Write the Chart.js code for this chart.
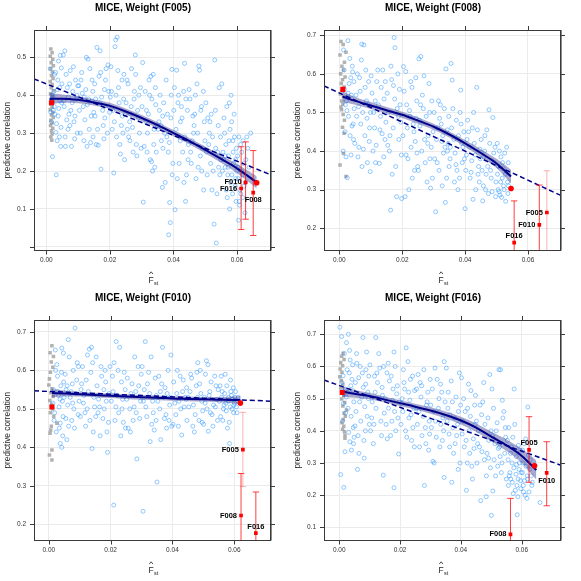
<!DOCTYPE html>
<html>
<head>
<meta charset="utf-8">
<title>MICE, Weight</title>
<script src="https://cdn.jsdelivr.net/npm/chart.js@4.4.1/dist/chart.umd.min.js"></script>
<style>
  body { margin: 0; background: #fff; }
  .panel { position: absolute; width: 290px; height: 290px; }
</style>
</head>
<body>
<div class="panel" style="left:0;top:0"><canvas id="c005" width="290" height="290"></canvas></div>
<div class="panel" style="left:290px;top:0"><canvas id="c008" width="290" height="290"></canvas></div>
<div class="panel" style="left:0;top:290px"><canvas id="c010" width="290" height="290"></canvas></div>
<div class="panel" style="left:290px;top:290px"><canvas id="c016" width="290" height="290"></canvas></div>
<script>
const FONT = "'Liberation Sans', Arial, Helvetica, sans-serif";
Chart.defaults.font.family = FONT;

const xTicks = [0, 0.02, 0.04, 0.06];

// ---------- F005 ----------
const f005YTicks = [0, 0.1, 0.2, 0.3, 0.4, 0.5];
const f005Cloud = [
  [0.0012,0.47],[0.0041,0.29],[0.0027,0.35],[0.0036,0.44],[0.0019,0.238],[0.0048,0.38],[0.0023,0.41],[0.0031,0.19],[0.0044,0.505],[0.0016,0.33],
  [0.0039,0.365],[0.0029,0.46],[0.0046,0.315],[0.0021,0.395],[0.0034,0.28],[0.0042,0.42],[0.0025,0.37],[0.0038,0.49],[0.0014,0.355],[0.0049,0.43],
  [0.0032,0.325],[0.0045,0.265],[0.0026,0.455],[0.0037,0.345],[0.0018,0.40],[0.0043,0.385],[0.003,0.302],[0.0047,0.472],[0.0022,0.36],[0.0035,0.415],
  [0.0053,0.506],[0.0087,0.33],[0.0066,0.42],[0.0079,0.265],[0.0058,0.517],[0.0094,0.39],[0.0071,0.35],[0.0062,0.455],[0.0083,0.41],[0.0097,0.30],
  [0.0056,0.37],[0.0075,0.465],[0.0089,0.285],[0.0068,0.31],[0.0092,0.44],[0.006,0.265],[0.0081,0.38],[0.0073,0.43],[0.0064,0.335],[0.0096,0.40],
  [0.0085,0.475],[0.0055,0.385],[0.0077,0.36],[0.0069,0.395],[0.009,0.345],[0.0099,0.425],[0.0059,0.29],[0.0074,0.32],
  [0.0104,0.36],[0.0137,0.47],[0.0118,0.28],[0.0126,0.50],[0.0142,0.385],[0.0109,0.44],[0.0131,0.495],[0.0121,0.335],[0.0147,0.29],[0.0113,0.405],
  [0.0135,0.31],[0.0102,0.425],[0.0128,0.265],[0.0144,0.44],[0.0116,0.37],[0.0139,0.275],[0.0107,0.30],[0.0124,0.415],[0.0149,0.355],[0.0133,0.39],
  [0.0111,0.46],[0.0141,0.345],[0.0119,0.395],[0.0129,0.375],[0.0146,0.41],
  [0.0159,0.526],[0.0184,0.34],[0.0166,0.45],[0.0192,0.30],[0.0172,0.205],[0.0155,0.39],[0.0188,0.47],[0.0177,0.36],[0.0163,0.268],[0.0196,0.41],
  [0.0169,0.517],[0.0181,0.285],[0.0152,0.43],[0.0174,0.395],[0.0199,0.355],[0.0161,0.31],[0.0186,0.44],[0.0179,0.32],[0.0157,0.27],[0.0194,0.48],
  [0.0168,0.38],[0.0183,0.415],[0.0171,0.46],[0.0153,0.345],[0.0197,0.37],
  [0.0223,0.553],[0.0236,0.32],[0.0205,0.41],[0.0244,0.455],[0.0212,0.195],[0.0229,0.38],[0.0218,0.546],[0.0248,0.35],[0.0203,0.475],[0.0233,0.245],
  [0.0216,0.528],[0.0241,0.30],[0.0209,0.36],[0.0227,0.42],[0.0246,0.23],[0.0214,0.33],[0.0238,0.44],[0.0221,0.29],[0.0201,0.395],[0.0231,0.27],
  [0.0243,0.39],[0.0225,0.465],[0.0207,0.31],[0.0239,0.345],[0.0219,0.40],
  [0.028,0.506],[0.0262,0.33],[0.0291,0.40],[0.0254,0.44],[0.0273,0.25],[0.0287,0.36],[0.0259,0.29],[0.0296,0.42],[0.0268,0.47],[0.0283,0.27],
  [0.0251,0.38],[0.0277,0.41],[0.0293,0.30],[0.0265,0.35],[0.0285,0.24],[0.0257,0.43],[0.0271,0.315],[0.0298,0.26],[0.0276,0.39],[0.0263,0.28],
  [0.0289,0.34],[0.0255,0.31],[0.0281,0.455],[0.0267,0.37],
  [0.0303,0.486],[0.0305,0.118],[0.0336,0.455],[0.0318,0.30],[0.0344,0.375],[0.0311,0.41],[0.0327,0.23],[0.0349,0.32],[0.0315,0.36],[0.0332,0.39],
  [0.0308,0.265],[0.0341,0.21],[0.0323,0.44],[0.0338,0.27],[0.0313,0.33],[0.0329,0.45],[0.0346,0.25],[0.0321,0.35],[0.0334,0.20],[0.0301,0.37],
  [0.0325,0.40],[0.0343,0.42],[0.0317,0.25],[0.0339,0.31],[0.0331,0.225],
  [0.0385,0.032],[0.039,0.064],[0.0388,0.117],[0.0365,0.157],[0.0395,0.468],[0.0372,0.30],[0.0358,0.40],[0.0381,0.35],[0.0367,0.26],[0.0392,0.34],
  [0.0354,0.33],[0.0377,0.44],[0.0362,0.28],[0.0398,0.22],[0.0369,0.38],[0.0384,0.25],[0.0356,0.36],[0.0379,0.29],[0.0393,0.40],[0.0361,0.32],
  [0.0374,0.17],[0.0387,0.275],[0.0396,0.19],[0.0366,0.345],[0.0352,0.31],
  [0.0405,0.098],[0.041,0.466],[0.0435,0.484],[0.0422,0.33],[0.0447,0.27],[0.0414,0.38],[0.0438,0.12],[0.0403,0.42],[0.0429,0.25],[0.0444,0.36],
  [0.0418,0.22],[0.0432,0.41],[0.0408,0.31],[0.0441,0.19],[0.0425,0.37],[0.0412,0.18],[0.0436,0.29],[0.0449,0.415],[0.0421,0.28],[0.0433,0.17],
  [0.0416,0.40],[0.0446,0.23],[0.0427,0.34],[0.0401,0.36],[0.0439,0.39],
  [0.048,0.477],[0.0482,0.466],[0.0495,0.15],[0.0463,0.30],[0.0488,0.37],[0.0456,0.22],[0.0474,0.43],[0.0491,0.26],[0.0467,0.35],[0.0452,0.39],
  [0.0478,0.21],[0.0497,0.33],[0.0459,0.28],[0.0485,0.24],[0.0471,0.18],[0.0494,0.41],[0.0461,0.345],[0.0476,0.30],[0.0489,0.20],[0.0454,0.25],
  [0.0469,0.40],[0.0499,0.28],[0.0465,0.32],[0.0486,0.36],
  [0.053,0.493],[0.0535,0.010],[0.0528,0.06],[0.0513,0.30],[0.0546,0.19],[0.0502,0.38],[0.0539,0.25],[0.0521,0.15],[0.0508,0.34],[0.0544,0.42],
  [0.0517,0.22],[0.0532,0.36],[0.0504,0.25],[0.0548,0.29],[0.0525,0.20],[0.0511,0.27],[0.0537,0.14],[0.0519,0.35],[0.0541,0.32],[0.0506,0.19],
  [0.0533,0.26],[0.0515,0.33],[0.0549,0.23],[0.0523,0.29],[0.0542,0.21],
  [0.0552,0.43],[0.0577,0.10],[0.0561,0.30],[0.0589,0.22],[0.0568,0.37],[0.0594,0.16],[0.0556,0.25],[0.0583,0.33],[0.0571,0.19],[0.0598,0.26],
  [0.0563,0.21],[0.0586,0.14],[0.0575,0.28],[0.0559,0.34],[0.0592,0.29],[0.0566,0.15],[0.0581,0.40],[0.0597,0.12],[0.0573,0.24],[0.0554,0.20],
  [0.0588,0.25],[0.0579,0.17],[0.0595,0.23],[0.0565,0.27],[0.0584,0.19],[0.0558,0.23],[0.0591,0.35],[0.0569,0.13],[0.0599,0.20],[0.0576,0.38],
  [0.0562,0.24],[0.0587,0.28],[0.0572,0.21],[0.0596,0.18],[0.0578,0.31],
  [0.0605,0.07],[0.0625,0.09],[0.0608,0.11],[0.0631,0.29],[0.0614,0.20],[0.0602,0.24],[0.0622,0.16],[0.0638,0.21],[0.0611,0.27],[0.0618,0.13],
  [0.0604,0.18],[0.0628,0.23],[0.0615,0.25],[0.0643,0.30],[0.0609,0.15],[0.0621,0.22],[0.0606,0.29],[0.0634,0.26],[0.0617,0.19],[0.0612,0.14],
  [0.0603,0.21],[0.0627,0.17],[0.0619,0.28],[0.0607,0.12]
];
const f005Near = [
  [0.0014,0.522],[0.0018,0.512],[0.0012,0.503],[0.0020,0.495],[0.0015,0.486],[0.0022,0.478],[0.0013,0.470],[0.0019,0.461],[0.0016,0.452],[0.0021,0.444],
  [0.0012,0.436],[0.0018,0.428],[0.0015,0.420],[0.0023,0.412],[0.0013,0.404],[0.0019,0.397],[0.0016,0.390],[0.0021,0.383],[0.0014,0.376],[0.0018,0.369],
  [0.0012,0.362],[0.0020,0.355],[0.0016,0.348],[0.0022,0.341],[0.0014,0.334],[0.0018,0.327],[0.0013,0.320],[0.0020,0.313],[0.0016,0.306],[0.0018,0.298],
  [0.0014,0.290],[0.0017,0.281]
];
const f005FitX    = [0.001,0.005,0.01,0.015,0.02,0.025,0.03,0.035,0.04,0.045,0.05,0.055,0.06,0.0662];
const f005Fit     = [0.390,0.391,0.388,0.381,0.372,0.357,0.340,0.321,0.300,0.279,0.256,0.232,0.207,0.170];
const f005FitLow  = [0.374,0.380,0.379,0.373,0.364,0.349,0.332,0.313,0.292,0.271,0.247,0.222,0.195,0.154];
const f005FitHigh = [0.406,0.402,0.397,0.389,0.380,0.365,0.348,0.329,0.308,0.287,0.265,0.242,0.219,0.186];
const f005TrendX = [-0.0039, 0.0707];
const f005TrendY = [0.443, 0.190];
const f005Self = [0.0016, 0.380];
const f005End = [0.0662, 0.169];
const f005Names = ['F010', 'F016', 'F008'];
const f005OtherX = [0.0627, 0.0613, 0.0651];
const f005OtherY = [0.170, 0.154, 0.143];
const f005OtherLo = [0.073, 0.046, 0.030];
const f005OtherHi = [0.277, 0.264, 0.254];

// ---------- F008 ----------
const f008YTicks = [0.2, 0.3, 0.4, 0.5, 0.6, 0.7];
const f008Cloud = [
  [0.0027,0.686],[0.0013,0.662],[0.0041,0.62],[0.0022,0.53],[0.0036,0.59],[0.0018,0.45],[0.0047,0.51],[0.0031,0.575],[0.0012,0.40],[0.0044,0.47],
  [0.0025,0.331],[0.0038,0.545],[0.0016,0.56],[0.0049,0.42],[0.0029,0.49],[0.0042,0.605],[0.0021,0.385],[0.0034,0.44],[0.0046,0.58],[0.0019,0.52],
  [0.0033,0.64],[0.0045,0.43],[0.0024,0.505],[0.004,0.465],[0.0015,0.61],[0.0037,0.39],[0.0028,0.55],
  [0.0071,0.677],[0.0078,0.675],[0.007,0.636],[0.0098,0.347],[0.0055,0.49],[0.0086,0.53],[0.0062,0.41],[0.0093,0.58],[0.0066,0.555],[0.0081,0.44],
  [0.0057,0.60],[0.0089,0.37],[0.0074,0.50],[0.0096,0.46],[0.0059,0.385],[0.0084,0.61],[0.0068,0.47],[0.0092,0.52],[0.0053,0.545],[0.0076,0.405],
  [0.0088,0.485],[0.0064,0.59],[0.0095,0.425],[0.0072,0.36],[0.0082,0.565],[0.0061,0.515],[0.0099,0.50],
  [0.0104,0.55],[0.0127,0.368],[0.0138,0.61],[0.0112,0.46],[0.0145,0.43],[0.0119,0.58],[0.0131,0.49],[0.0107,0.40],[0.0142,0.535],[0.0115,0.37],
  [0.0136,0.445],[0.0101,0.595],[0.0124,0.52],[0.0148,0.475],[0.0117,0.415],[0.0133,0.565],[0.0109,0.50],[0.0141,0.385],[0.0122,0.61],[0.0129,0.455],
  [0.0146,0.58],[0.0114,0.53],
  [0.0174,0.694],[0.0177,0.668],[0.0163,0.247],[0.0182,0.282],[0.0198,0.277],[0.0156,0.50],[0.0189,0.43],[0.0166,0.585],[0.0193,0.52],[0.0159,0.40],
  [0.0171,0.46],[0.0186,0.60],[0.0152,0.55],[0.0179,0.36],[0.0195,0.475],[0.0161,0.44],[0.0184,0.51],[0.0168,0.34],[0.0191,0.56],[0.0154,0.415],
  [0.0176,0.535],[0.0197,0.39],[0.0164,0.62],[0.0188,0.49],[0.0172,0.57],
  [0.0204,0.619],[0.0211,0.606],[0.0209,0.282],[0.0237,0.45],[0.0218,0.38],[0.0246,0.53],[0.0225,0.49],[0.0202,0.44],[0.0232,0.33],[0.0243,0.59],
  [0.0214,0.52],[0.0228,0.41],[0.0249,0.36],[0.0206,0.555],[0.0235,0.47],[0.0221,0.30],[0.0241,0.425],[0.0216,0.46],[0.0231,0.565],[0.0247,0.395],
  [0.0223,0.505],[0.0239,0.35],[0.0212,0.39],[0.0227,0.58],[0.0244,0.485],
  [0.0253,0.639],[0.0259,0.645],[0.029,0.304],[0.0267,0.51],[0.0281,0.42],[0.0256,0.465],[0.0294,0.53],[0.0273,0.37],[0.0285,0.575],[0.0262,0.40],
  [0.0298,0.45],[0.0276,0.49],[0.0251,0.35],[0.0288,0.38],[0.0269,0.595],[0.0283,0.44],[0.0258,0.52],[0.0296,0.33],[0.0271,0.43],[0.0264,0.545],
  [0.0292,0.41],[0.0279,0.32],[0.0255,0.48],[0.0287,0.50],
  [0.0306,0.243],[0.0337,0.267],[0.0339,0.613],[0.0313,0.46],[0.0344,0.40],[0.0321,0.52],[0.0303,0.38],[0.0329,0.44],[0.0348,0.49],[0.0317,0.35],
  [0.0334,0.51],[0.0309,0.43],[0.0341,0.33],[0.0324,0.47],[0.0301,0.50],[0.0331,0.395],[0.0346,0.42],[0.0315,0.53],[0.0327,0.31],[0.0343,0.455],
  [0.0311,0.37],[0.0336,0.41],[0.0319,0.485],[0.0349,0.36],[0.0326,0.425],
  [0.0355,0.627],[0.0359,0.584],[0.0386,0.558],[0.04,0.251],[0.0364,0.43],[0.0391,0.37],[0.0372,0.48],[0.0353,0.41],[0.0382,0.33],[0.0368,0.395],
  [0.0396,0.45],[0.0377,0.30],[0.0361,0.51],[0.0389,0.42],[0.0374,0.35],[0.0357,0.46],[0.0384,0.50],[0.0398,0.38],[0.0366,0.32],[0.0379,0.44],
  [0.0393,0.41],[0.0371,0.365],[0.0352,0.38],[0.0387,0.47],
  [0.0437,0.565],[0.0425,0.275],[0.0411,0.45],[0.0443,0.36],[0.0404,0.39],[0.0429,0.42],[0.0416,0.33],[0.0447,0.405],[0.0408,0.48],[0.0434,0.30],
  [0.0421,0.375],[0.0402,0.35],[0.0439,0.455],[0.0414,0.41],[0.0445,0.32],[0.0427,0.50],[0.0419,0.345],[0.0432,0.39],[0.0406,0.43],[0.0441,0.34],
  [0.0423,0.46],[0.0448,0.38],
  [0.0456,0.271],[0.0476,0.507],[0.0488,0.487],[0.0497,0.282],[0.0462,0.40],[0.0483,0.33],[0.0469,0.455],[0.0492,0.37],[0.0454,0.35],[0.0478,0.42],
  [0.0465,0.30],[0.0495,0.41],[0.0472,0.36],[0.0451,0.43],[0.0486,0.295],[0.0459,0.385],[0.0481,0.35],[0.0498,0.32],[0.0467,0.34],[0.0474,0.29],
  [0.0491,0.395],[0.0458,0.31],[0.0485,0.375],[0.0463,0.44],
  [0.0511,0.286],[0.0532,0.41],[0.0506,0.36],[0.0524,0.30],[0.0537,0.37],[0.0502,0.42],[0.0518,0.33],[0.0529,0.27],[0.0514,0.385],[0.0535,0.32],
  [0.0508,0.295],[0.0521,0.355],[0.0538,0.31],[0.0503,0.34],[0.0526,0.395],[0.0516,0.28],[0.0533,0.345],[0.0509,0.40],[0.0522,0.31],[0.0536,0.29],
  [0.0505,0.30],[0.0519,0.37],[0.0528,0.34],[0.0513,0.32]
];
const f008Near = [
  [0.0005,0.684],[0.0012,0.676],[0.0002,0.649],[0.0021,0.656],[0.0016,0.630],[0.0008,0.620],[0.0013,0.610],[0.0004,0.600],[0.0018,0.592],[0.0010,0.585],
  [0.0006,0.575],[0.0015,0.566],[0.0009,0.556],[0.0003,0.548],[0.0013,0.540],[0.0007,0.530],[0.0011,0.522],[0.0005,0.514],[0.0007,0.507],[0.0012,0.495],
  [0.0016,0.480],[0.0010,0.462],[0.0015,0.446],[0.0013,0.394],[0.0002,0.364],[0.0021,0.334]
];
const f008FitX    = [0.001,0.005,0.01,0.015,0.02,0.025,0.03,0.035,0.04,0.045,0.05,0.0546];
const f008Fit     = [0.541,0.530,0.518,0.506,0.494,0.479,0.463,0.443,0.420,0.395,0.368,0.334];
const f008FitLow  = [0.527,0.520,0.509,0.498,0.486,0.471,0.455,0.435,0.411,0.385,0.356,0.316];
const f008FitHigh = [0.555,0.540,0.527,0.514,0.502,0.487,0.471,0.451,0.429,0.405,0.380,0.352];
const f008TrendX = [-0.0049, 0.0705];
const f008TrendY = [0.569, 0.285];
const f008Self = [0.0011, 0.560];
const f008End = [0.0546, 0.303];
const f008Names = ['F016', 'F010', 'F005'];
const f008OtherX = [0.0556, 0.0636, 0.0660];
const f008OtherY = [0.163, 0.209, 0.241];
const f008OtherLo = [0.050, 0.100, 0.130];
const f008OtherHi = [0.271, 0.312, 0.349];

// ---------- F010 ----------
const f010YTicks = [0.2, 0.3, 0.4, 0.5, 0.6, 0.7];
const f010Cloud = [
  [0.0021,0.653],[0.0042,0.658],[0.0047,0.645],[0.0037,0.463],[0.0034,0.45],[0.0037,0.41],[0.0042,0.40],[0.0015,0.55],[0.0028,0.585],[0.0044,0.52],
  [0.0019,0.49],[0.0031,0.535],[0.0048,0.57],[0.0024,0.44],[0.0039,0.56],[0.0013,0.515],[0.0046,0.48],[0.0026,0.615],[0.0033,0.505],[0.0041,0.595],
  [0.0017,0.47],[0.0029,0.545],[0.0049,0.53],[0.0022,0.60],[0.0036,0.525],[0.0045,0.43],
  [0.0085,0.71],[0.0063,0.68],[0.0092,0.62],[0.0056,0.55],[0.0074,0.47],[0.0088,0.54],[0.0061,0.51],[0.0079,0.60],[0.0095,0.485],[0.0053,0.59],
  [0.0069,0.53],[0.0083,0.45],[0.0058,0.42],[0.0076,0.565],[0.0098,0.52],[0.0066,0.635],[0.0081,0.50],[0.0055,0.475],[0.0072,0.545],[0.009,0.575],
  [0.0064,0.455],[0.0077,0.515],[0.0096,0.61],[0.0059,0.56],
  [0.0125,0.64],[0.0131,0.655],[0.0138,0.66],[0.014,0.397],[0.0104,0.55],[0.0117,0.49],[0.0146,0.53],[0.0109,0.61],[0.0133,0.47],[0.0121,0.575],
  [0.0144,0.44],[0.0112,0.515],[0.0128,0.545],[0.0102,0.48],[0.0136,0.595],[0.0119,0.455],[0.0148,0.505],[0.0106,0.565],[0.0124,0.50],[0.0142,0.62],
  [0.0114,0.535],
  [0.019,0.387],[0.0198,0.61],[0.0153,0.635],[0.0166,0.43],[0.0178,0.55],[0.0159,0.49],[0.0186,0.52],[0.0171,0.585],[0.0193,0.465],[0.0156,0.56],
  [0.0182,0.60],[0.0164,0.505],[0.0175,0.475],[0.0195,0.54],[0.0161,0.525],[0.0188,0.44],[0.0169,0.61],[0.0179,0.50],[0.0152,0.48],[0.0184,0.57],
  [0.021,0.25],[0.0218,0.675],[0.0229,0.66],[0.0206,0.585],[0.0237,0.50],[0.0214,0.47],[0.0244,0.595],[0.0222,0.535],[0.0202,0.52],[0.0233,0.43],
  [0.0247,0.55],[0.0211,0.62],[0.0226,0.49],[0.0241,0.465],[0.0208,0.545],[0.0235,0.57],[0.0217,0.505],[0.0248,0.45],[0.0224,0.60],[0.0239,0.525],
  [0.0285,0.37],[0.0278,0.635],[0.0262,0.50],[0.0291,0.56],[0.0254,0.58],[0.0273,0.47],[0.0297,0.52],[0.0266,0.54],[0.0283,0.49],[0.0257,0.45],
  [0.0289,0.61],[0.0269,0.565],[0.0294,0.475],[0.0252,0.525],[0.0276,0.505],[0.0299,0.59],[0.0264,0.44],[0.0281,0.545],
  [0.0305,0.234],[0.0312,0.675],[0.035,0.31],[0.0328,0.415],[0.0302,0.61],[0.0336,0.52],[0.0317,0.48],[0.0344,0.58],[0.0309,0.55],[0.0323,0.595],
  [0.0347,0.47],[0.0314,0.505],[0.0331,0.635],[0.0341,0.445],[0.0306,0.52],[0.0326,0.54],[0.0338,0.49],[0.0319,0.565],[0.0348,0.535],[0.0333,0.46],
  [0.0368,0.66],[0.0395,0.64],[0.0362,0.42],[0.0383,0.54],[0.0356,0.585],[0.0374,0.475],[0.0391,0.51],[0.0359,0.50],[0.0386,0.60],[0.0371,0.53],
  [0.0398,0.455],[0.0365,0.565],[0.0379,0.485],[0.0353,0.52],[0.0389,0.47],[0.0376,0.555],[0.0394,0.53],[0.0361,0.545],[0.0381,0.45],
  [0.043,0.432],[0.0416,0.60],[0.0441,0.53],[0.0404,0.57],[0.0427,0.50],[0.0446,0.555],[0.0411,0.485],[0.0435,0.575],[0.0421,0.52],[0.0402,0.46],
  [0.0438,0.505],[0.0414,0.54],[0.0447,0.47],[0.0425,0.585],[0.0408,0.515],[0.0433,0.545],[0.0419,0.455],[0.0444,0.525],
  [0.0482,0.62],[0.049,0.60],[0.0457,0.545],[0.0471,0.44],[0.0495,0.52],[0.0462,0.58],[0.0486,0.47],[0.0453,0.505],[0.0477,0.56],[0.0498,0.495],
  [0.0466,0.455],[0.0481,0.53],[0.0459,0.59],[0.0492,0.54],[0.0474,0.485],[0.0451,0.53],[0.0488,0.565],[0.0468,0.51],[0.0496,0.465],[0.0479,0.595],
  [0.051,0.625],[0.0515,0.615],[0.0516,0.442],[0.0503,0.53],[0.0528,0.485],[0.0541,0.56],[0.0507,0.59],[0.0533,0.51],[0.0546,0.47],[0.0521,0.545],
  [0.0501,0.46],[0.0537,0.585],[0.0512,0.50],[0.0525,0.57],[0.0544,0.525],[0.0506,0.515],[0.0531,0.455],[0.0519,0.535],[0.0548,0.55],[0.0523,0.49],
  [0.0539,0.505],
  [0.0585,0.41],[0.0578,0.45],[0.0552,0.52],[0.0571,0.59],[0.0593,0.50],[0.0561,0.545],[0.0582,0.53],[0.0556,0.48],[0.0597,0.555],[0.0567,0.51],
  [0.0588,0.575],[0.0554,0.56],[0.0574,0.495],[0.0591,0.535],[0.0563,0.47],[0.0581,0.52],[0.0598,0.49],[0.0569,0.54],[0.0587,0.505],[0.0559,0.53],
  [0.0576,0.56],[0.0595,0.525],[0.0565,0.50],[0.0589,0.545],[0.0573,0.515],[0.0558,0.585],[0.0599,0.51],[0.0584,0.465],
  [0.0602,0.53],[0.0607,0.505],[0.0611,0.52],[0.0604,0.545],[0.0609,0.49],[0.0613,0.53],[0.0601,0.515]
];
const f010Near = [
  [0.0010,0.664],[0.0004,0.646],[0.0015,0.636],[0.0008,0.622],[0.0013,0.608],[0.0005,0.595],[0.0002,0.578],[0.0000,0.562],[0.0010,0.552],[0.0006,0.542],
  [0.0014,0.532],[0.0003,0.522],[0.0009,0.512],[0.0012,0.500],[0.0005,0.490],[0.0016,0.480],[0.0026,0.463],[0.0008,0.455],[0.0006,0.445],[0.0004,0.437],
  [0.0010,0.393],[0.0002,0.380],[0.0010,0.367]
];
const f010FitX    = [0.001,0.005,0.01,0.015,0.02,0.025,0.03,0.035,0.04,0.045,0.05,0.055,0.06,0.062];
const f010Fit     = [0.541,0.540,0.538,0.536,0.534,0.532,0.530,0.529,0.527,0.526,0.525,0.524,0.523,0.523];
const f010FitLow  = [0.530,0.532,0.532,0.530,0.528,0.526,0.524,0.523,0.521,0.520,0.519,0.517,0.514,0.512];
const f010FitHigh = [0.552,0.548,0.544,0.542,0.540,0.538,0.536,0.535,0.533,0.532,0.531,0.531,0.532,0.534];
const f010TrendX = [-0.0048, 0.0719];
const f010TrendY = [0.547, 0.520];
const f010Self = [0.0010, 0.505];
const f010End = [0.0620, 0.515];
const f010Names = ['F005', 'F008', 'F016'];
const f010OtherX = [0.0628, 0.0622, 0.0670];
const f010OtherY = [0.394, 0.223, 0.177];
const f010OtherLo = [0.298, 0.100, 0.070];
const f010OtherHi = [0.491, 0.332, 0.284];

// ---------- F016 ----------
const f016YTicks = [0.1, 0.2, 0.3, 0.4, 0.5, 0.6, 0.7];
const f016Cloud = [
  [0.0002,0.722],[0.0005,0.264],[0.0015,0.224],[0.0008,0.693],[0.0024,0.674],[0.003,0.70],[0.0013,0.571],[0.0019,0.335],[0.0035,0.366],[0.004,0.34],
  [0.0027,0.52],[0.0044,0.605],[0.0021,0.455],[0.0048,0.49],[0.0033,0.58],[0.0011,0.43],[0.0038,0.54],[0.0046,0.41],[0.0017,0.64],[0.0029,0.47],
  [0.0042,0.56],[0.0023,0.505],[0.0036,0.62],[0.0049,0.38],[0.0014,0.485],[0.0031,0.395],[0.0045,0.525],[0.0026,0.59],[0.0039,0.445],[0.0009,0.55],
  [0.0034,0.65],[0.0047,0.36],[0.002,0.53],
  [0.006,0.28],[0.0065,0.33],[0.0078,0.69],[0.009,0.645],[0.0082,0.315],[0.0053,0.55],[0.0071,0.43],[0.0094,0.52],[0.0058,0.61],[0.0086,0.40],
  [0.0067,0.49],[0.0097,0.57],[0.0062,0.385],[0.0079,0.535],[0.0055,0.46],[0.0088,0.59],[0.0074,0.505],[0.0099,0.42],[0.0064,0.565],[0.0084,0.475],
  [0.0057,0.64],[0.0092,0.445],[0.0069,0.60],[0.0081,0.37],[0.0096,0.50],[0.0076,0.58],[0.0052,0.415],[0.0087,0.545],
  [0.012,0.69],[0.0145,0.262],[0.013,0.64],[0.0108,0.49],[0.0137,0.43],[0.0116,0.57],[0.0142,0.51],[0.0103,0.40],[0.0126,0.55],[0.0148,0.455],
  [0.0112,0.36],[0.0133,0.595],[0.0121,0.47],[0.0101,0.605],[0.0139,0.385],[0.0118,0.52],[0.0146,0.60],[0.0107,0.44],[0.0129,0.50],[0.0141,0.535],
  [0.0114,0.42],[0.0124,0.58],
  [0.018,0.645],[0.018,0.223],[0.0195,0.328],[0.0157,0.58],[0.0173,0.43],[0.0189,0.515],[0.0162,0.47],[0.0184,0.60],[0.0151,0.50],[0.0169,0.385],
  [0.0193,0.44],[0.0165,0.555],[0.0186,0.40],[0.0154,0.42],[0.0177,0.53],[0.0198,0.49],[0.0161,0.61],[0.0182,0.46],[0.0171,0.57],[0.0191,0.54],
  [0.0158,0.375],[0.0175,0.495],
  [0.022,0.658],[0.0207,0.50],[0.0234,0.56],[0.0218,0.40],[0.0245,0.47],[0.0211,0.59],[0.0229,0.44],[0.0248,0.525],[0.0203,0.42],[0.0238,0.37],
  [0.0215,0.53],[0.0226,0.615],[0.0242,0.41],[0.0209,0.46],[0.0232,0.495],[0.0247,0.35],[0.0213,0.55],[0.0236,0.45],[0.0222,0.38],[0.0241,0.57],
  [0.0205,0.485],[0.0228,0.52],
  [0.028,0.23],[0.0278,0.59],[0.0262,0.46],[0.0291,0.52],[0.0254,0.53],[0.0272,0.385],[0.0296,0.43],[0.0266,0.55],[0.0285,0.36],[0.0257,0.42],
  [0.0289,0.49],[0.0269,0.505],[0.0294,0.34],[0.0252,0.47],[0.0276,0.445],[0.0299,0.56],[0.0264,0.35],[0.0283,0.41],[0.0259,0.575],[0.0287,0.48],
  [0.0271,0.54],[0.0297,0.39],
  [0.0315,0.595],[0.0345,0.615],[0.0345,0.255],[0.0308,0.305],[0.0312,0.30],[0.0326,0.47],[0.0303,0.41],[0.0337,0.52],[0.0319,0.38],[0.0341,0.44],
  [0.0306,0.53],[0.0331,0.35],[0.0348,0.49],[0.0322,0.56],[0.0334,0.42],[0.0311,0.46],[0.0339,0.37],[0.0328,0.50],[0.0301,0.48],[0.0343,0.40],
  [0.0317,0.43],[0.0333,0.545],
  [0.037,0.24],[0.0395,0.58],[0.0352,0.595],[0.0364,0.45],[0.0381,0.36],[0.0358,0.52],[0.0389,0.42],[0.0372,0.49],[0.0397,0.30],[0.0361,0.39],
  [0.0384,0.505],[0.0376,0.33],[0.0392,0.46],[0.0355,0.43],[0.0368,0.555],[0.0386,0.385],[0.0399,0.48],[0.0363,0.35],[0.0379,0.44],[0.0391,0.28],
  [0.0357,0.47],[0.0374,0.41],
  [0.0418,0.215],[0.0438,0.25],[0.0402,0.565],[0.0427,0.40],[0.0445,0.48],[0.0411,0.35],[0.0433,0.525],[0.0406,0.43],[0.0421,0.30],[0.0441,0.375],
  [0.0414,0.46],[0.0429,0.33],[0.0447,0.42],[0.0404,0.39],[0.0425,0.545],[0.0436,0.29],[0.0409,0.50],[0.0431,0.445],[0.0417,0.37],[0.0443,0.345],
  [0.0422,0.47],[0.0448,0.51],
  [0.0465,0.183],[0.0483,0.195],[0.0495,0.575],[0.0475,0.55],[0.0457,0.40],[0.0486,0.33],[0.0468,0.45],[0.0492,0.37],[0.0453,0.30],[0.0479,0.42],
  [0.0461,0.35],[0.0497,0.285],[0.0472,0.49],[0.0489,0.44],[0.0455,0.36],[0.0477,0.31],[0.0499,0.40],[0.0463,0.48],[0.0484,0.26],[0.0451,0.43],
  [0.0469,0.335],[0.0491,0.315],
  [0.05,0.137],[0.0505,0.213],[0.0525,0.59],[0.053,0.59],[0.0512,0.36],[0.0538,0.44],[0.0507,0.47],[0.0521,0.29],[0.0544,0.33],[0.0516,0.40],
  [0.0533,0.27],[0.0502,0.53],[0.0547,0.38],[0.0527,0.35],[0.0509,0.31],[0.0541,0.46],[0.0519,0.425],[0.0535,0.30],[0.0514,0.26],[0.0546,0.41],
  [0.0523,0.345],[0.0536,0.495],[0.0504,0.385],[0.0529,0.32],[0.0549,0.25],
  [0.0575,0.53],[0.0585,0.139],[0.0572,0.205],[0.0587,0.195],[0.0553,0.37],[0.0591,0.28],[0.0564,0.25],[0.0582,0.32],[0.0557,0.41],[0.0596,0.245],
  [0.0568,0.30],[0.0579,0.215],[0.0594,0.34],[0.0561,0.27],[0.0588,0.25],[0.0555,0.31],[0.0577,0.42],[0.0598,0.27],[0.0566,0.35],[0.0584,0.23],
  [0.0559,0.26],[0.0592,0.30],[0.0571,0.38],[0.0581,0.265],[0.0597,0.22],[0.0563,0.33],[0.0589,0.355],[0.0574,0.285],[0.0556,0.23],[0.0583,0.295],
  [0.0569,0.24],
  [0.062,0.474],[0.066,0.177],[0.0605,0.23],[0.0628,0.31],[0.0611,0.20],[0.0633,0.23],[0.0603,0.34],[0.0619,0.25],[0.0608,0.36],[0.0624,0.21],
  [0.0614,0.29],[0.0631,0.26],[0.0602,0.27],[0.0617,0.19],[0.0626,0.28],[0.0609,0.245],[0.0622,0.325],[0.0606,0.21],[0.0635,0.24],[0.0613,0.375],
  [0.0618,0.26],[0.0604,0.30]
];
const f016Near = [
  [0.0013,0.641],[0.0008,0.632],[0.0016,0.622],[0.0005,0.612],[0.0011,0.602],[0.0003,0.592],[0.0009,0.582],[0.0002,0.568],[0.0007,0.556],[0.0012,0.545],
  [0.0005,0.533],[0.0010,0.522],[0.0015,0.510],[0.0008,0.499],[0.0018,0.488],[0.0012,0.477],[0.0024,0.465],[0.0016,0.455],[0.0020,0.445],[0.0013,0.435],
  [0.0009,0.425],[0.0015,0.414],[0.0011,0.405],[0.0017,0.397],[0.0019,0.386],[0.0019,0.377]
];
const f016FitX    = [0.001,0.005,0.01,0.015,0.02,0.025,0.03,0.035,0.04,0.045,0.05,0.055,0.06,0.0648];
const f016Fit     = [0.522,0.515,0.508,0.497,0.486,0.475,0.463,0.449,0.432,0.410,0.382,0.355,0.322,0.278];
const f016FitLow  = [0.506,0.503,0.498,0.488,0.477,0.466,0.453,0.438,0.420,0.397,0.367,0.337,0.300,0.248];
const f016FitHigh = [0.538,0.527,0.518,0.506,0.495,0.484,0.473,0.460,0.444,0.423,0.397,0.373,0.344,0.308];
const f016TrendX = [-0.0050, 0.0729];
const f016TrendY = [0.558, 0.293];
const f016Self = [0.0010, 0.519];
const f016End = [0.0642, 0.291];
const f016Names = ['F005', 'F010', 'F008'];
const f016OtherX = [0.0624, 0.0682, 0.0563];
const f016OtherY = [0.341, 0.269, 0.078];
const f016OtherLo = [0.240, 0.167, -0.030];
const f016OtherHi = [0.444, 0.366, 0.190];

// ---------- drawing ----------
const NAVY = '#00008b';
const RED = 'rgba(255,0,0,0.75)';
const PINK = 'rgba(255,60,60,0.4)';

const pairs = list => list.map(([x, y]) => ({ x, y }));
const zip = (xs, ys) => xs.map((x, i) => ({ x, y: ys[i] }));

// frame, ticks on all four sides, titles and population labels
const overlay = {
  id: 'overlay',
  afterDraw(chart) {
    const p = chart.options.plugins.overlay;
    const { ctx, chartArea: a, scales: { x, y } } = chart;
    ctx.save();
    ctx.strokeStyle = '#8c8c8c';
    ctx.lineWidth = 2;
    ctx.beginPath();
    ctx.moveTo(a.right, a.top);
    ctx.lineTo(a.right, a.bottom);
    ctx.stroke();
    ctx.strokeStyle = '#3a3a3a';
    ctx.lineWidth = 1;
    ctx.strokeRect(a.left + 0.5, a.top + 0.5, a.right - a.left - 1, a.bottom - a.top - 0.5);
    ctx.beginPath();
    x.ticks.forEach(t => {
      const px = Math.round(x.getPixelForValue(t.value)) + 0.5;
      ctx.moveTo(px, a.bottom); ctx.lineTo(px, a.bottom + 4);
      ctx.moveTo(px, a.top); ctx.lineTo(px, a.top - 4);
    });
    y.ticks.forEach(t => {
      const py = Math.round(y.getPixelForValue(t.value)) + 0.5;
      ctx.moveTo(a.left - 4, py); ctx.lineTo(a.left, py);
      ctx.moveTo(a.right, py); ctx.lineTo(a.right + 4, py);
    });
    ctx.stroke();

    ctx.fillStyle = '#000';
    ctx.font = 'bold 10px ' + FONT;
    ctx.textAlign = 'center';
    ctx.textBaseline = 'middle';
    ctx.fillText(p.title, chart.width / 2 - 2, 8);

    // x axis title: F-hat with subscript st
    const fx = (a.left + a.right) / 2 - 4;
    ctx.fillStyle = '#222';
    ctx.textAlign = 'left';
    ctx.textBaseline = 'alphabetic';
    ctx.font = '8.5px ' + FONT;
    ctx.fillText('F', fx, 282.5);
    ctx.font = '5.5px ' + FONT;
    ctx.fillText('st', fx + 5.6, 285);
    ctx.strokeStyle = '#222';
    ctx.lineWidth = 0.8;
    ctx.beginPath();
    ctx.moveTo(fx + 0.8, 274); ctx.lineTo(fx + 2.6, 271.8); ctx.lineTo(fx + 4.4, 274);
    ctx.stroke();

    ctx.fillStyle = '#000';
    ctx.font = 'bold 7.5px ' + FONT;
    ctx.textBaseline = 'middle';
    p.names.forEach((name, i) => {
      const px = x.getPixelForValue(p.ox[i]);
      const py = y.getPixelForValue(p.oy[i]);
      if (p.place[i] === 'left') {
        ctx.textAlign = 'right';
        ctx.fillText(name, px - 4, py);
      } else if (p.place[i] === 'above') {
        ctx.textAlign = 'center';
        ctx.fillText(name, px, py - 6.5);
      } else {
        ctx.textAlign = 'center';
        ctx.fillText(name, px, py + 7.5);
      }
    });
    ctx.restore();
  }
};

function makePanel(id, p) {
  const datasets = [
    { data: pairs(p.near), pointStyle: 'rect', pointRadius: 2.5, backgroundColor: 'rgba(165,165,165,0.85)', borderWidth: 0, order: 20 },
    { data: pairs(p.cloud), pointStyle: 'circle', pointRadius: 2, backgroundColor: 'rgba(0,0,0,0)', borderColor: 'rgba(30,144,255,0.6)', borderWidth: 0.8, order: 19 },
    { data: zip(p.fitX, p.fitLow), showLine: true, pointRadius: 0, borderColor: 'rgba(0,0,0,0)', fill: false, cubicInterpolationMode: 'monotone', order: 18 },
    { data: zip(p.fitX, p.fitHigh), showLine: true, pointRadius: 0, borderColor: 'rgba(0,0,0,0)', fill: '-1', backgroundColor: 'rgba(50,50,140,0.42)', cubicInterpolationMode: 'monotone', order: 17 },
    { data: zip(p.fitX, p.fit), showLine: true, pointRadius: 0, borderColor: NAVY, borderWidth: 2, cubicInterpolationMode: 'monotone', order: 16 },
    { data: zip(p.trendX, p.trendY), showLine: true, pointRadius: 0, borderColor: NAVY, borderWidth: 1.5, borderDash: [5, 3], order: 15 }
  ];
  p.names.forEach((name, i) => {
    const col = p.faint.includes(name) ? PINK : RED;
    datasets.push({
      data: [{ x: p.ox[i], y: p.lo[i] }, { x: p.ox[i], y: p.hi[i] }],
      showLine: true, borderColor: col, borderWidth: 1,
      pointStyle: 'line', pointRadius: 3.2, pointBorderColor: col, pointBorderWidth: 1, order: 10
    });
  });
  datasets.push({ data: zip(p.ox, p.oy), pointStyle: 'rect', pointRadius: 2.6, backgroundColor: '#ff0000', borderWidth: 0, order: 5 });
  datasets.push({ data: [{ x: p.end[0], y: p.end[1] }], pointStyle: 'circle', pointRadius: 2.8, backgroundColor: '#ff0000', borderWidth: 0, order: 4 });
  datasets.push({ data: [{ x: p.self[0], y: p.self[1] }], pointStyle: 'rect', pointRadius: 3.6, backgroundColor: '#ff0000', borderWidth: 0, order: 3 });

  return new Chart(document.getElementById(id), {
    type: 'scatter',
    data: { datasets },
    options: {
      responsive: false,
      animation: false,
      devicePixelRatio: 1,
      events: [],
      layout: { padding: { top: 30, right: 19, left: 0, bottom: 0 } },
      plugins: {
        legend: { display: false },
        tooltip: { enabled: false },
        overlay: p
      },
      scales: {
        x: {
          type: 'linear', min: p.xMin, max: p.xMax,
          afterBuildTicks: s => { s.ticks = xTicks.map(v => ({ value: v })); },
          afterFit: s => { s.height = 39.5; },
          grid: { color: '#ebebeb', lineWidth: 1, drawTicks: false },
          border: { display: false },
          ticks: { font: { size: 6.5 }, color: '#333', padding: 6, maxRotation: 0, autoSkip: false, callback: v => v.toFixed(2) }
        },
        y: {
          type: 'linear', min: p.yMin, max: p.yMax,
          afterBuildTicks: s => { s.ticks = p.yTicks.map(v => ({ value: v })); },
          afterFit: s => { s.width = 34; },
          grid: { color: '#ebebeb', lineWidth: 1, drawTicks: false },
          border: { display: false },
          ticks: { font: { size: 6.5 }, color: '#333', padding: 8, autoSkip: false, callback: v => (v === 0 ? '' : v.toFixed(1)) },
          title: { display: true, text: 'predictive correlation', font: { size: 8.3 }, color: '#222', padding: { top: 2.5, bottom: 0 } }
        }
      }
    },
    plugins: [overlay]
  });
}

makePanel('c005', {
  title: 'MICE, Weight (F005)', xMin: -0.0039, xMax: 0.0707, yMin: -0.0095, yMax: 0.572, yTicks: f005YTicks,
  cloud: f005Cloud, near: f005Near, fitX: f005FitX, fit: f005Fit, fitLow: f005FitLow, fitHigh: f005FitHigh,
  trendX: f005TrendX, trendY: f005TrendY, self: f005Self, end: f005End,
  names: f005Names, ox: f005OtherX, oy: f005OtherY, lo: f005OtherLo, hi: f005OtherHi,
  place: ['left', 'left', 'below'], faint: []
});
makePanel('c008', {
  title: 'MICE, Weight (F008)', xMin: -0.0049, xMax: 0.0705, yMin: 0.1425, yMax: 0.7137, yTicks: f008YTicks,
  cloud: f008Cloud, near: f008Near, fitX: f008FitX, fit: f008Fit, fitLow: f008FitLow, fitHigh: f008FitHigh,
  trendX: f008TrendX, trendY: f008TrendY, self: f008Self, end: f008End,
  names: f008Names, ox: f008OtherX, oy: f008OtherY, lo: f008OtherLo, hi: f008OtherHi,
  place: ['above', 'left', 'left'], faint: ['F005']
});
makePanel('c010', {
  title: 'MICE, Weight (F010)', xMin: -0.0048, xMax: 0.0719, yMin: 0.158, yMax: 0.731, yTicks: f010YTicks,
  cloud: f010Cloud, near: f010Near, fitX: f010FitX, fit: f010Fit, fitLow: f010FitLow, fitHigh: f010FitHigh,
  trendX: f010TrendX, trendY: f010TrendY, self: f010Self, end: f010End,
  names: f010Names, ox: f010OtherX, oy: f010OtherY, lo: f010OtherLo, hi: f010OtherHi,
  place: ['left', 'left', 'above'], faint: ['F005']
});
makePanel('c016', {
  title: 'MICE, Weight (F016)', xMin: -0.0050, xMax: 0.0729, yMin: 0.059, yMax: 0.7445, yTicks: f016YTicks,
  cloud: f016Cloud, near: f016Near, fitX: f016FitX, fit: f016Fit, fitLow: f016FitLow, fitHigh: f016FitHigh,
  trendX: f016TrendX, trendY: f016TrendY, self: f016Self, end: f016End,
  names: f016Names, ox: f016OtherX, oy: f016OtherY, lo: f016OtherLo, hi: f016OtherHi,
  place: ['above', 'below', 'left'], faint: []
});
</script>
</body>
</html>
